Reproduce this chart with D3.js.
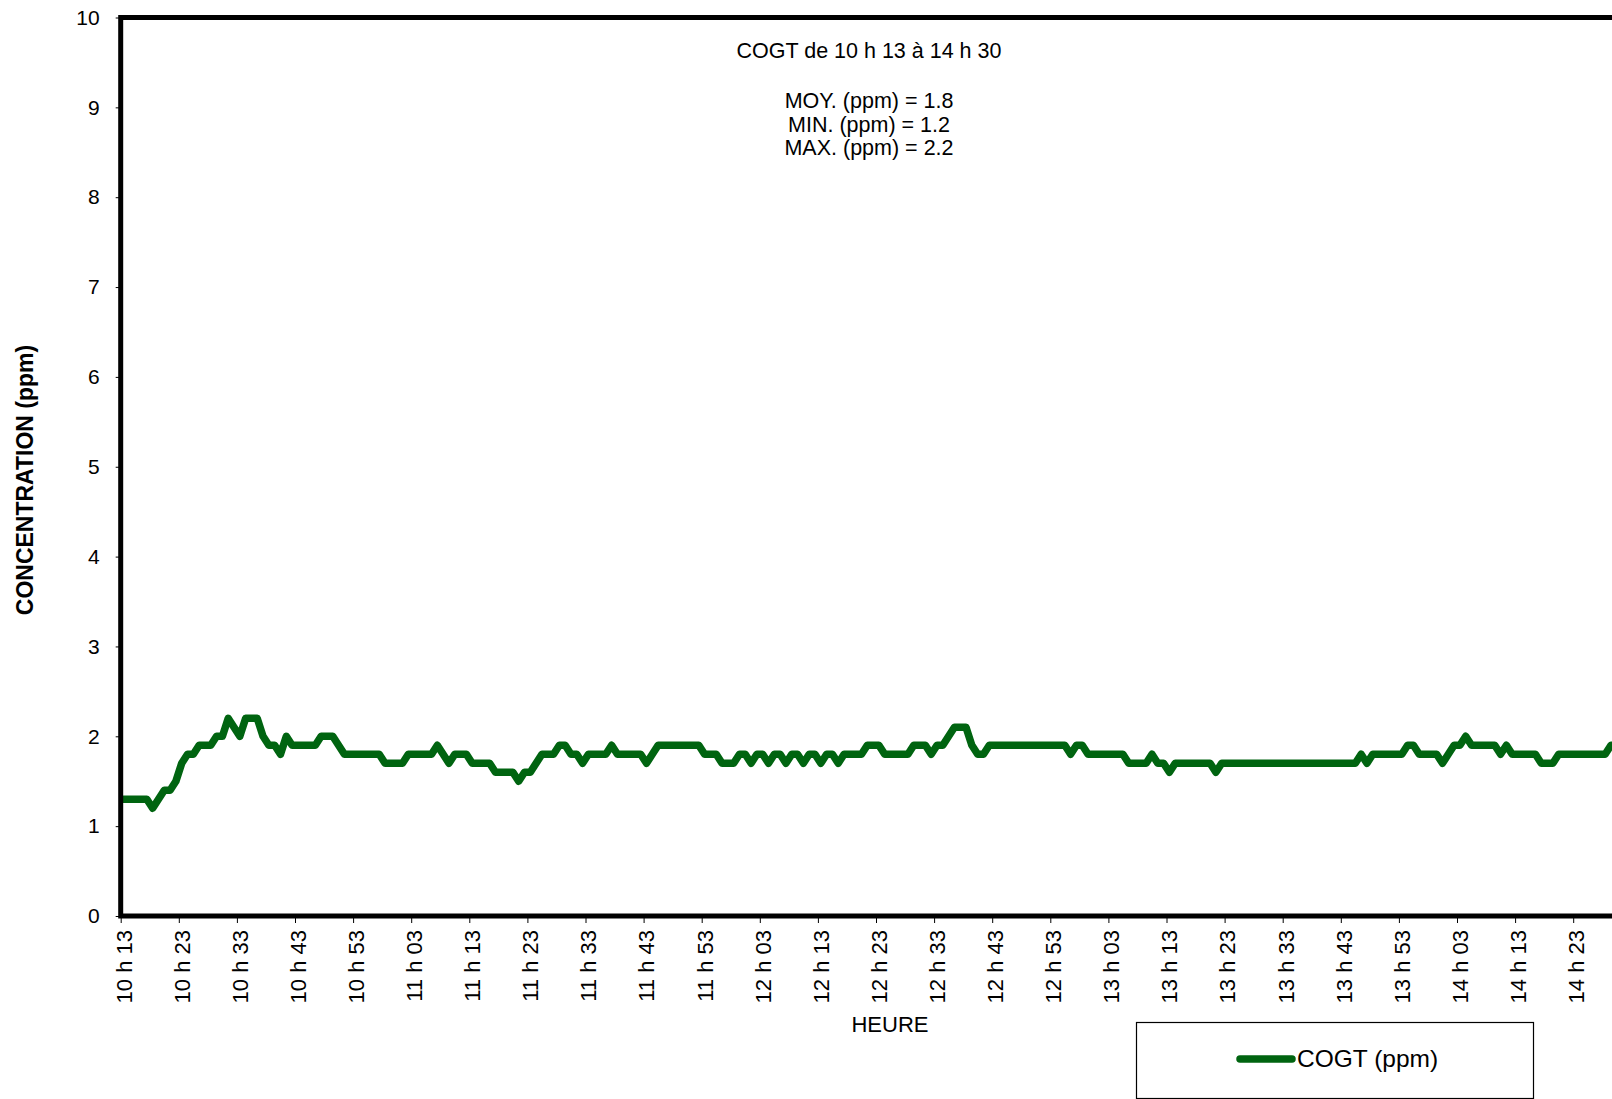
<!DOCTYPE html>
<html><head><meta charset="utf-8">
<script src="https://cdn.jsdelivr.net/npm/d3@7"></script>
<style>html,body{margin:0;padding:0;background:#fff;overflow:hidden}</style>
</head><body>
<svg id="c" width="1612" height="1099"></svg>
<script>
// COGT (ppm), one reading per minute from 10 h 13 to 14 h 30
const values = [
  1.3,1.3,1.3,1.3,1.3,1.2,1.3,1.4,1.4,1.5,
  1.7,1.8,1.8,1.9,1.9,1.9,2.0,2.0,2.2,2.1,
  2.0,2.2,2.2,2.2,2.0,1.9,1.9,1.8,2.0,1.9,
  1.9,1.9,1.9,1.9,2.0,2.0,2.0,1.9,1.8,1.8,
  1.8,1.8,1.8,1.8,1.8,1.7,1.7,1.7,1.7,1.8,
  1.8,1.8,1.8,1.8,1.9,1.8,1.7,1.8,1.8,1.8,
  1.7,1.7,1.7,1.7,1.6,1.6,1.6,1.6,1.5,1.6,
  1.6,1.7,1.8,1.8,1.8,1.9,1.9,1.8,1.8,1.7,
  1.8,1.8,1.8,1.8,1.9,1.8,1.8,1.8,1.8,1.8,
  1.7,1.8,1.9,1.9,1.9,1.9,1.9,1.9,1.9,1.9,
  1.8,1.8,1.8,1.7,1.7,1.7,1.8,1.8,1.7,1.8,
  1.8,1.7,1.8,1.8,1.7,1.8,1.8,1.7,1.8,1.8,
  1.7,1.8,1.8,1.7,1.8,1.8,1.8,1.8,1.9,1.9,
  1.9,1.8,1.8,1.8,1.8,1.8,1.9,1.9,1.9,1.8,
  1.9,1.9,2.0,2.1,2.1,2.1,1.9,1.8,1.8,1.9,
  1.9,1.9,1.9,1.9,1.9,1.9,1.9,1.9,1.9,1.9,
  1.9,1.9,1.9,1.8,1.9,1.9,1.8,1.8,1.8,1.8,
  1.8,1.8,1.8,1.7,1.7,1.7,1.7,1.8,1.7,1.7,
  1.6,1.7,1.7,1.7,1.7,1.7,1.7,1.7,1.6,1.7,
  1.7,1.7,1.7,1.7,1.7,1.7,1.7,1.7,1.7,1.7,
  1.7,1.7,1.7,1.7,1.7,1.7,1.7,1.7,1.7,1.7,
  1.7,1.7,1.7,1.8,1.7,1.8,1.8,1.8,1.8,1.8,
  1.8,1.9,1.9,1.8,1.8,1.8,1.8,1.7,1.8,1.9,
  1.9,2.0,1.9,1.9,1.9,1.9,1.9,1.8,1.9,1.8,
  1.8,1.8,1.8,1.8,1.7,1.7,1.7,1.8,1.8,1.8,
  1.8,1.8,1.8,1.8,1.8,1.8,1.9,1.9
];
const tickLabels = [
  "10 h 13","10 h 23","10 h 33","10 h 43","10 h 53",
  "11 h 03","11 h 13","11 h 23","11 h 33","11 h 43","11 h 53",
  "12 h 03","12 h 13","12 h 23","12 h 33","12 h 43","12 h 53",
  "13 h 03","13 h 13","13 h 23","13 h 33","13 h 43","13 h 53",
  "14 h 03","14 h 13","14 h 23"
];
const tickEvery = 10;
const yTicks = [0,1,2,3,4,5,6,7,8,9,10];
const titleLines = ["COGT de 10 h 13 à 14 h 30", "MOY. (ppm) = 1.8", "MIN. (ppm) = 1.2", "MAX. (ppm) = 2.2"];
const seriesName = "COGT (ppm)";
const yTitle = "CONCENTRATION (ppm)";
const xTitle = "HEURE";

const FONT = "'Liberation Sans', Arial, Helvetica, sans-serif";
const LINE_COLOR = "#006410";
const svg = d3.select("#c").style("font-family", FONT);
svg.append("rect").attr("width", 1612).attr("height", 1099).attr("fill", "#fff");

const plotLeft = 120.7, step = 5.81, plotTop = 17.5, plotBottom = 916;
const plotRight = plotLeft + step * values.length;

const x = d3.scaleBand().domain(d3.range(values.length)).range([plotLeft, plotRight]);
const xEdge = d3.scaleLinear().domain([0, values.length]).range([plotLeft, plotRight]);
const y = d3.scaleLinear().domain([0, 10]).range([plotBottom, plotTop]);

// Y axis
const ya = svg.append("g").attr("transform", `translate(${plotLeft},0)`)
  .call(d3.axisLeft(y).tickValues(yTicks).tickSize(5).tickPadding(16).tickFormat(d3.format("d")));
ya.select(".domain").remove();
ya.selectAll("line").attr("stroke", "#000");
ya.selectAll("text").attr("font-size", 21).attr("font-family", FONT).attr("fill", "#000");

// X tick marks at category boundaries
const xt = svg.append("g").attr("transform", `translate(0,${plotBottom})`)
  .call(d3.axisBottom(xEdge).tickValues(d3.range(0, values.length, tickEvery)).tickSize(7).tickFormat(""));
xt.select(".domain").remove();
xt.selectAll("line").attr("stroke", "#000");

// X tick labels centered on categories
const xl = svg.append("g").attr("transform", `translate(0,${plotBottom})`)
  .call(d3.axisBottom(x).tickValues(d3.range(0, values.length, tickEvery)).tickSize(0)
    .tickFormat(i => tickLabels[i / tickEvery]));
xl.select(".domain").remove();
xl.selectAll("text")
  .attr("transform", "rotate(-90)")
  .attr("x", -14).attr("y", 0).attr("dy", "0.36em")
  .attr("text-anchor", "end")
  .attr("font-size", 22).attr("font-family", FONT).attr("fill", "#000");

// Data line
const line = d3.line().x((d, i) => x(i) + x.bandwidth() / 2).y(d => y(d));
svg.append("path").datum(values).attr("d", line)
  .attr("fill", "none").attr("stroke", LINE_COLOR).attr("stroke-width", 7.5)
  .attr("stroke-linejoin", "round").attr("stroke-linecap", "round");

// Plot frame
svg.append("rect").attr("x", plotLeft).attr("y", plotTop)
  .attr("width", plotRight - plotLeft).attr("height", plotBottom - plotTop)
  .attr("fill", "none").attr("stroke", "#000").attr("stroke-width", 5);

// Title block
const titleY = [58.3, 108.3, 131.7, 155];
svg.append("g").selectAll("text").data(titleLines).join("text")
  .attr("x", 869).attr("y", (d, i) => titleY[i])
  .attr("text-anchor", "middle").attr("font-size", 21.5).attr("fill", "#000").text(d => d);

// Axis titles
svg.append("text").attr("transform", "translate(33,480) rotate(-90)")
  .attr("text-anchor", "middle").attr("font-size", 23).attr("font-weight", "bold").attr("fill", "#000").text(yTitle);
svg.append("text").attr("x", 890).attr("y", 1032)
  .attr("text-anchor", "middle").attr("font-size", 22).attr("fill", "#000").text(xTitle);

// Legend
const lg = svg.append("g");
lg.append("rect").attr("x", 1136.5).attr("y", 1022.5).attr("width", 397).attr("height", 76)
  .attr("fill", "#fff").attr("stroke", "#000").attr("stroke-width", 1.2);
lg.append("line").attr("x1", 1240).attr("x2", 1292).attr("y1", 1059).attr("y2", 1059)
  .attr("stroke", LINE_COLOR).attr("stroke-width", 7.5).attr("stroke-linecap", "round");
lg.append("text").attr("x", 1297).attr("y", 1067).attr("font-size", 24.5).attr("fill", "#000").text(seriesName);
</script>
</body></html>
